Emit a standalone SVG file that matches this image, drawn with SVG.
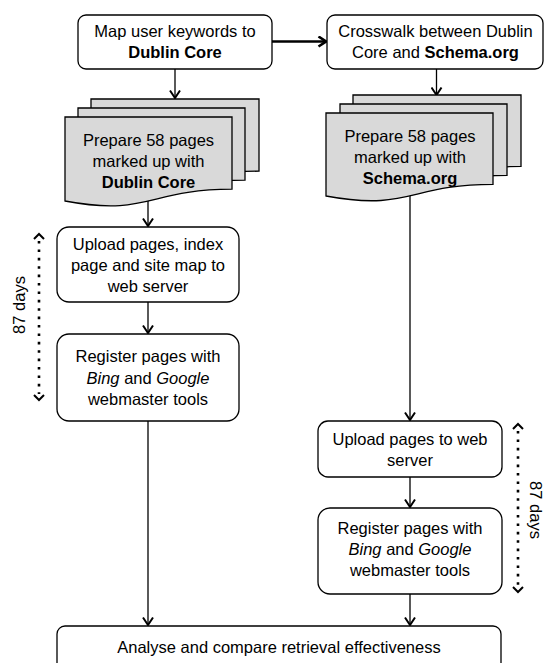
<svg xmlns="http://www.w3.org/2000/svg" width="545" height="663" viewBox="0 0 545 663">
<style>
  .box { fill: #ffffff; stroke: #000000; stroke-width: 1.3; }
  .doc { fill: #d9d9d9; stroke: #000000; stroke-width: 1.3; }
  .t { font-family: "Liberation Sans", Arial, sans-serif; font-size: 16.5px; fill: #000000; text-anchor: middle; }
  .b { font-weight: bold; }
  .i { font-style: italic; }
  .line { fill: none; stroke: #000000; stroke-width: 1.3; }
  .thick { fill: none; stroke: #000000; stroke-width: 2.6; }
  .dots { fill: none; stroke: #000000; stroke-width: 2.6; stroke-dasharray: 2.6 5.8; }
  .chev { fill: none; stroke: #000000; stroke-width: 2; }
</style>
<defs>
  <marker id="arr" viewBox="0 0 12 12" refX="11" refY="6" markerWidth="12" markerHeight="12" markerUnits="userSpaceOnUse" orient="auto">
    <path d="M3.5,1 L11,6 L3.5,11" fill="none" stroke="#000" stroke-width="2"/>
  </marker>
  <marker id="arrThick" viewBox="0 0 12 12" refX="11" refY="6" markerWidth="12" markerHeight="12" markerUnits="userSpaceOnUse" orient="auto">
    <path d="M3.5,1 L11,6 L3.5,11" fill="none" stroke="#000" stroke-width="2.6"/>
  </marker>
</defs>

<g id="connectors">
  <line class="thick" x1="272" y1="41.5" x2="326" y2="41.5" marker-end="url(#arrThick)"/>
  <line class="line" x1="175" y1="69" x2="175" y2="98" marker-end="url(#arr)"/>
  <line class="line" x1="436.5" y1="69" x2="436.5" y2="95" marker-end="url(#arr)"/>
  <line class="line" x1="148" y1="200" x2="148" y2="226" marker-end="url(#arr)"/>
  <line class="line" x1="148" y1="302" x2="148" y2="333" marker-end="url(#arr)"/>
  <line class="line" x1="148" y1="421" x2="148" y2="625" marker-end="url(#arr)"/>
  <line class="line" x1="410" y1="190" x2="410" y2="420" marker-end="url(#arr)"/>
  <line class="line" x1="410" y1="477" x2="410" y2="507" marker-end="url(#arr)"/>
  <line class="line" x1="410" y1="594" x2="410" y2="625" marker-end="url(#arr)"/>
</g>

<g id="map-keywords">
  <rect class="box" x="78" y="15" width="194" height="54" rx="8"/>
  <text class="t" x="175" y="37">Map user keywords to</text>
  <text class="t b" x="175" y="58">Dublin Core</text>
</g>

<g id="crosswalk">
  <rect class="box" x="327" y="15" width="216" height="54" rx="8"/>
  <text class="t" x="435.5" y="37">Crosswalk between Dublin</text>
  <text class="t" x="435.5" y="58">Core and <tspan class="b">Schema.org</tspan></text>
</g>

<g id="prepare-dc">
  <path class="doc" d="M91,99 H259 V171.2 C175,171.2 175,198.7 91,183 Z"/>
  <path class="doc" d="M78,108 H245 V180.2 C161.5,180.2 161.5,207.7 78,192 Z"/>
  <path class="doc" d="M65,117 H232 V189.2 C148.5,189.2 148.5,216.7 65,201 Z"/>
  <text class="t" x="148.5" y="146">Prepare 58 pages</text>
  <text class="t" x="148.5" y="167">marked up with</text>
  <text class="t b" x="148.5" y="188">Dublin Core</text>
</g>

<g id="prepare-schema">
  <path class="doc" d="M353,95 H521 V166.4 C437,166.4 437,193.5 353,178 Z"/>
  <path class="doc" d="M340,104 H507 V175.4 C423.5,175.4 423.5,202.5 340,187 Z"/>
  <path class="doc" d="M326,113 H493 V184.4 C409.5,184.4 409.5,211.5 326,196 Z"/>
  <text class="t" x="410" y="142">Prepare 58 pages</text>
  <text class="t" x="410" y="163">marked up with</text>
  <text class="t b" x="410" y="183.5">Schema.org</text>
</g>

<g id="upload-dc">
  <rect class="box" x="57" y="227" width="182" height="75" rx="12"/>
  <text class="t" x="148" y="249.5">Upload pages, index</text>
  <text class="t" x="148" y="270.5">page and site map to</text>
  <text class="t" x="148" y="291.5">web server</text>
</g>

<g id="register-dc">
  <rect class="box" x="57" y="334" width="182" height="87" rx="12"/>
  <text class="t" x="148" y="362">Register pages with</text>
  <text class="t" x="148" y="383.5"><tspan class="i">Bing</tspan> and <tspan class="i">Google</tspan></text>
  <text class="t" x="148" y="404.5">webmaster tools</text>
</g>

<g id="upload-schema">
  <rect class="box" x="318" y="421" width="184" height="56" rx="10"/>
  <text class="t" x="410" y="445">Upload pages to web</text>
  <text class="t" x="410" y="465.5">server</text>
</g>

<g id="register-schema">
  <rect class="box" x="318" y="508" width="184" height="86" rx="12"/>
  <text class="t" x="410" y="533.5">Register pages with</text>
  <text class="t" x="410" y="555"><tspan class="i">Bing</tspan> and <tspan class="i">Google</tspan></text>
  <text class="t" x="410" y="575.5">webmaster tools</text>
</g>

<g id="analyse">
  <rect class="box" x="57" y="626" width="444" height="60" rx="8"/>
  <text class="t" x="279" y="653">Analyse and compare retrieval effectiveness</text>
</g>

<g id="duration-dc">
  <line class="dots" x1="39" y1="241" x2="39" y2="394"/>
  <path class="chev" d="M34,239 L39,234 L44,239"/>
  <path class="chev" d="M34,395 L39,400 L44,395"/>
  <text class="t" transform="translate(25,305) rotate(-90)">87 days</text>
</g>

<g id="duration-schema">
  <line class="dots" x1="518" y1="431" x2="518" y2="586"/>
  <path class="chev" d="M513,429 L518,424 L523,429"/>
  <path class="chev" d="M513,587 L518,592 L523,587"/>
  <text class="t" transform="translate(530,510) rotate(90)">87 days</text>
</g>
</svg>
